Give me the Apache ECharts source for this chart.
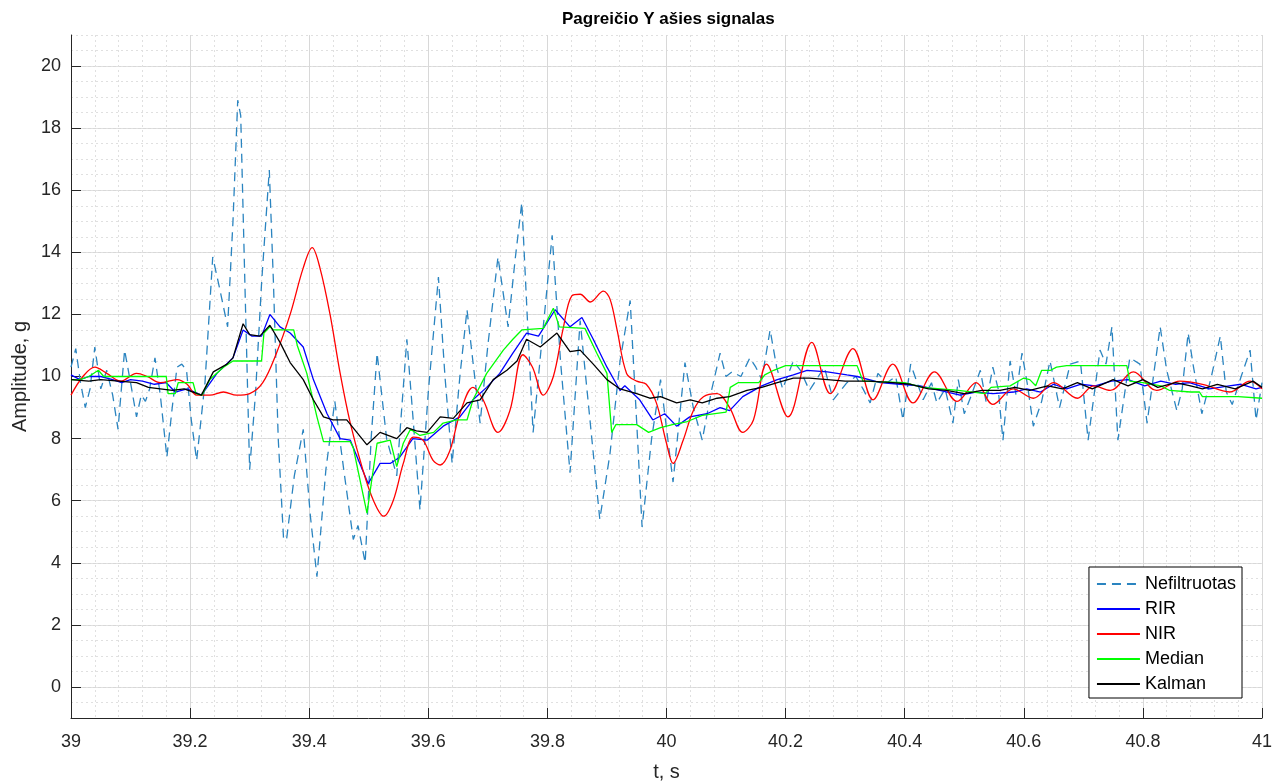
<!DOCTYPE html>
<html>
<head>
<meta charset="utf-8">
<script src="https://cdn.jsdelivr.net/npm/echarts@6/dist/echarts.min.js"></script>
<style>
html,body{margin:0;padding:0;background:#fff;}
#chart{width:1287px;height:784px;}
</style>
</head>
<body>
<div id="chart"></div>
<script>
// ---------- data ----------
const titleText = 'Pagreičio Y ašies signalas';
const xName = 't, s';
const yName = 'Amplitude, g';
const seriesNames = ['Nefiltruotas', 'RIR', 'NIR', 'Median', 'Kalman'];
const yTickValues = [0, 2, 4, 6, 8, 10, 12, 14, 16, 18, 20];

const noisyT = [39.000,39.008,39.016,39.024,39.032,39.040,39.050,39.060,39.070,39.079,39.090,39.100,39.110,39.118,39.125,39.132,39.141,39.150,39.161,39.170,39.178,39.186,39.194,39.202,39.211,39.225,39.238,39.250,39.263,39.272,39.280,39.285,39.292,39.300,39.310,39.320,39.333,39.340,39.348,39.357,39.362,39.375,39.390,39.402,39.413,39.428,39.443,39.458,39.474,39.482,39.494,39.504,39.514,39.530,39.547,39.564,39.575,39.586,39.600,39.617,39.628,39.640,39.653,39.665,39.676,39.687,39.700,39.717,39.734,39.746,39.757,39.766,39.776,39.790,39.808,39.822,39.838,39.855,39.872,39.888,39.905,39.922,39.939,39.950,39.959,39.975,39.990,40.011,40.031,40.045,40.060,40.075,40.090,40.100,40.110,40.125,40.140,40.150,40.160,40.174,40.185,40.195,40.213,40.225,40.240,40.255,40.265,40.280,40.303,40.318,40.330,40.342,40.355,40.370,40.385,40.397,40.410,40.431,40.445,40.454,40.468,40.481,40.490,40.500,40.512,40.527,40.537,40.548,40.557,40.565,40.577,40.587,40.597,40.606,40.616,40.630,40.644,40.660,40.678,40.695,40.708,40.728,40.738,40.748,40.758,40.778,40.795,40.807,40.829,40.840,40.857,40.866,40.876,40.885,40.899,40.915,40.930,40.940,40.950,40.965,40.980,40.990,41.000];
const noisyV = [10.3,10.9,9.8,9.0,9.6,10.95,9.6,10.2,9.4,8.3,10.85,9.8,8.7,9.4,9.2,9.6,10.6,9.4,7.4,9.0,10.3,10.4,10.2,8.6,7.3,9.8,13.85,12.8,11.6,15.0,18.9,18.4,13.0,7.0,9.5,13.0,16.65,13.0,8.0,4.75,4.75,6.8,8.3,5.5,3.55,7.0,9.2,7.0,4.75,5.2,4.0,8.0,10.75,8.0,6.8,11.2,8.5,5.7,9.5,13.2,10.0,7.2,10.0,12.15,10.3,8.5,11.0,13.85,11.6,13.8,15.6,12.0,8.2,11.0,14.55,10.5,6.9,11.8,8.5,5.4,7.5,10.5,12.45,8.5,5.15,8.0,9.9,6.6,10.45,9.0,7.95,9.5,10.75,10.0,10.15,10.0,10.6,10.3,9.9,11.5,10.3,9.6,10.5,10.2,9.55,10.0,10.3,9.25,9.8,10.0,9.6,9.15,10.1,9.8,10.0,8.6,10.4,9.25,9.8,9.15,9.6,8.5,9.9,8.8,9.4,10.2,9.15,10.3,9.6,7.95,10.5,9.4,10.75,9.75,8.4,9.2,10.5,9.0,10.4,10.5,7.95,10.85,10.4,11.6,7.95,10.6,10.4,8.5,11.6,10.2,8.9,9.6,11.4,10.3,8.8,10.0,11.3,9.5,9.1,10.0,10.85,8.6,9.8];

const rirT = [39.000,39.015,39.030,39.050,39.070,39.085,39.100,39.120,39.140,39.160,39.175,39.195,39.219,39.245,39.272,39.289,39.304,39.320,39.334,39.351,39.368,39.390,39.407,39.430,39.452,39.469,39.485,39.499,39.519,39.536,39.552,39.574,39.598,39.625,39.653,39.675,39.698,39.720,39.742,39.765,39.785,39.813,39.838,39.858,39.877,39.900,39.922,39.930,39.955,39.977,39.997,40.017,40.039,40.068,40.090,40.106,40.128,40.160,40.186,40.213,40.236,40.270,40.303,40.320,40.359,40.392,40.426,40.459,40.493,40.520,40.548,40.583,40.605,40.628,40.650,40.672,40.695,40.720,40.747,40.775,40.803,40.830,40.855,40.878,40.912,40.945,40.965,40.990,41.000];
const rirV = [10.05,9.9,10.0,10.0,9.9,9.8,9.9,9.85,9.75,9.8,9.5,9.6,9.4,10.1,10.6,11.5,11.3,11.3,12.0,11.6,11.4,10.95,9.9,8.8,8.0,7.95,7.2,6.55,7.2,7.2,7.4,8.0,7.95,8.4,8.7,9.25,9.65,10.1,10.75,11.4,11.3,12.15,11.6,11.9,11.2,10.3,9.55,9.7,9.25,8.6,8.8,8.4,8.7,8.8,9.0,8.9,9.35,9.7,9.9,10.05,10.2,10.15,10.05,10.0,9.8,9.75,9.7,9.55,9.4,9.5,9.45,9.5,9.6,9.5,9.75,9.6,9.75,9.7,9.85,9.9,9.7,9.85,9.75,9.8,9.6,9.7,9.75,9.6,9.65];

const nirT = [39.000,39.020,39.040,39.060,39.084,39.110,39.128,39.150,39.178,39.195,39.211,39.233,39.256,39.278,39.300,39.322,39.345,39.368,39.390,39.405,39.418,39.435,39.452,39.469,39.490,39.508,39.525,39.541,39.558,39.575,39.591,39.608,39.620,39.636,39.653,39.675,39.692,39.717,39.737,39.759,39.775,39.793,39.810,39.826,39.841,39.855,39.872,39.894,39.905,39.917,39.933,39.950,39.966,39.983,40.000,40.011,40.028,40.045,40.062,40.085,40.106,40.128,40.146,40.168,40.204,40.244,40.275,40.313,40.347,40.380,40.414,40.450,40.488,40.520,40.548,40.582,40.616,40.650,40.690,40.717,40.745,40.784,40.823,40.862,40.900,40.946,40.980,41.000];
const nirV = [9.4,10.0,10.3,10.1,9.85,10.1,10.0,9.8,9.9,9.75,9.4,9.4,9.5,9.4,9.45,9.8,10.75,12.0,13.5,14.15,13.5,12.0,10.1,8.5,7.0,6.0,5.5,6.0,7.2,8.05,7.95,7.3,7.15,7.6,8.8,9.65,9.25,8.2,8.9,10.7,10.3,9.4,10.0,11.5,12.6,12.65,12.4,12.75,12.5,11.5,10.1,9.85,9.75,9.15,7.85,7.2,7.95,8.9,9.35,9.45,9.0,8.2,8.6,10.4,8.7,11.1,9.45,10.9,9.25,10.4,9.15,10.15,9.2,9.8,9.1,9.6,9.3,9.8,9.3,9.7,9.55,10.15,9.55,9.85,9.75,9.5,9.85,9.6];

const medT = [39.000,39.015,39.030,39.046,39.055,39.160,39.163,39.175,39.180,39.205,39.210,39.220,39.233,39.256,39.272,39.320,39.324,39.334,39.340,39.374,39.380,39.396,39.413,39.424,39.469,39.474,39.497,39.514,39.536,39.547,39.558,39.570,39.586,39.609,39.625,39.648,39.665,39.675,39.698,39.726,39.742,39.757,39.793,39.810,39.820,39.863,39.883,39.900,39.908,39.915,39.950,39.970,39.990,40.010,40.035,40.060,40.100,40.107,40.120,40.155,40.165,40.180,40.200,40.320,40.330,40.400,40.430,40.460,40.490,40.535,40.545,40.577,40.600,40.610,40.620,40.630,40.645,40.655,40.672,40.773,40.778,40.800,40.830,40.845,40.880,40.895,40.900,40.960,41.000];
const medV = [9.9,9.9,10.0,10.2,10.0,10.0,9.45,9.45,9.8,9.8,9.45,9.4,9.9,10.3,10.5,10.5,11.4,11.6,11.5,11.5,11.0,10.1,8.7,7.9,7.9,7.7,5.6,7.85,7.95,7.1,7.85,8.3,8.1,8.2,8.5,8.6,8.6,9.25,10.1,10.85,11.2,11.5,11.55,12.2,11.6,11.55,10.75,10.1,8.2,8.45,8.45,8.2,8.35,8.45,8.55,8.75,8.85,9.65,9.8,9.8,10.05,10.2,10.35,10.35,9.85,9.8,9.65,9.6,9.55,9.45,9.65,9.7,9.95,9.9,9.7,10.2,10.2,10.3,10.35,10.35,9.85,9.8,9.7,9.55,9.5,9.5,9.35,9.35,9.3];

const kalT = [39.000,39.030,39.050,39.080,39.110,39.130,39.150,39.170,39.190,39.219,39.239,39.262,39.272,39.289,39.300,39.317,39.334,39.351,39.368,39.390,39.407,39.424,39.440,39.463,39.480,39.497,39.519,39.547,39.564,39.580,39.598,39.620,39.642,39.665,39.687,39.709,39.732,39.749,39.765,39.788,39.816,39.838,39.855,39.877,39.900,39.922,39.950,39.972,39.990,40.017,40.040,40.060,40.085,40.106,40.135,40.160,40.186,40.213,40.240,40.270,40.300,40.340,40.380,40.410,40.440,40.470,40.500,40.530,40.560,40.585,40.610,40.640,40.665,40.690,40.715,40.750,40.775,40.800,40.825,40.855,40.880,40.900,40.925,40.955,40.985,41.000];
const kalV = [9.9,9.85,9.9,9.85,9.8,9.65,9.6,9.55,9.6,9.4,10.15,10.4,10.6,11.7,11.35,11.3,11.65,11.1,10.45,9.9,9.25,8.7,8.6,8.6,8.2,7.8,8.2,8.0,8.35,8.25,8.2,8.7,8.65,9.15,9.25,9.9,10.2,10.5,11.2,10.95,11.4,10.8,10.85,10.4,9.9,9.6,9.45,9.3,9.35,9.15,9.25,9.15,9.3,9.35,9.55,9.65,9.8,9.95,9.95,9.9,9.85,9.85,9.8,9.75,9.6,9.55,9.45,9.55,9.55,9.65,9.55,9.7,9.6,9.8,9.6,9.9,9.7,9.9,9.65,9.8,9.7,9.6,9.75,9.6,9.85,9.65];

// ---------- build ----------
const pairs = (t, v) => t.map((x, i) => [x, v[i]]);
const FONT = '"Liberation Sans", Arial, Helvetica, sans-serif';
const AX = '#262626';

const chart = echarts.init(document.getElementById('chart'), null, {renderer: 'canvas'});
const lineBase = {type: 'line', symbol: 'none', showSymbol: false, xAxisIndex: 0, yAxisIndex: 0, animation: false};

chart.setOption({
  backgroundColor: '#ffffff',
  animation: false,
  title: {
    text: titleText,
    left: 557, top: 6,
    textStyle: {fontFamily: FONT, fontSize: 17, fontWeight: 'bold', color: '#000'}
  },
  grid: {left: 71, right: 25, top: 35, bottom: 66, containLabel: false, outerBoundsMode: 'none'},
  legend: {
    right: 45, top: 567,
    orient: 'vertical',
    backgroundColor: '#fff',
    borderColor: '#000', borderWidth: 1,
    padding: [8, 6, 5, 7],
    itemWidth: 43, itemHeight: 14, itemGap: 7,
    itemStyle: {opacity: 0},
    textStyle: {fontFamily: FONT, fontSize: 18, color: '#000'},
    data: seriesNames
  },
  xAxis: {
    type: 'value', min: 39, max: 41, interval: 0.2,
    name: xName, nameLocation: 'middle', nameGap: 44,
    nameTextStyle: {fontFamily: FONT, fontSize: 20, color: AX},
    axisLine: {show: true, onZero: false, lineStyle: {color: AX, width: 1}},
    axisTick: {show: true, inside: true, length: 10, lineStyle: {color: AX}},
    axisLabel: {fontFamily: FONT, fontSize: 18, color: AX, margin: 15,
      formatter: v => String(Math.round(v * 10) / 10)},
    splitLine: {show: true, lineStyle: {color: '#d8d8d8', width: 1}},
    minorTick: {show: false, splitNumber: 5},
    minorSplitLine: {show: true, lineStyle: {color: '#e0e0e0', width: 1, type: [2, 3]}}
  },
  yAxis: [{
    type: 'value', min: -1, max: 21,
    name: yName, nameLocation: 'middle', nameGap: 40,
    nameTextStyle: {fontFamily: FONT, fontSize: 20, color: AX},
    axisLine: {show: true, onZero: false, lineStyle: {color: AX, width: 1}},
    axisTick: {show: true, inside: true, length: 10, lineStyle: {color: AX}, customValues: yTickValues},
    axisLabel: {fontFamily: FONT, fontSize: 18, color: AX, margin: 10, customValues: yTickValues},
    splitLine: {show: true, lineStyle: {color: '#d8d8d8', width: 1}}
  }, {
    type: 'value', min: -1, max: 21, interval: 0.5, position: 'left',
    axisLine: {show: false}, axisTick: {show: false}, axisLabel: {show: false},
    splitLine: {show: true, lineStyle: {color: '#e0e0e0', width: 1, type: [2, 3]}}
  }],
  series: [
    Object.assign({}, lineBase, {name: seriesNames[0], data: pairs(noisyT, noisyV), z: 2,
      lineStyle: {color: '#2a84c0', width: 1.3, type: [9, 6]}, itemStyle: {color: '#2a84c0'}}),
    Object.assign({}, lineBase, {name: seriesNames[1], data: pairs(rirT, rirV), z: 3,
      lineStyle: {color: '#0000ff', width: 1.3}, itemStyle: {color: '#0000ff'}}),
    Object.assign({}, lineBase, {name: seriesNames[2], data: pairs(nirT, nirV), z: 4, smooth: 0.35,
      lineStyle: {color: '#ff0000', width: 1.3}, itemStyle: {color: '#ff0000'}}),
    Object.assign({}, lineBase, {name: seriesNames[3], data: pairs(medT, medV), z: 5,
      lineStyle: {color: '#00ff00', width: 1.3}, itemStyle: {color: '#00ff00'}}),
    Object.assign({}, lineBase, {name: seriesNames[4], data: pairs(kalT, kalV), z: 6,
      lineStyle: {color: '#000000', width: 1.3}, itemStyle: {color: '#000000'}})
  ]
});
</script>
</body>
</html>
